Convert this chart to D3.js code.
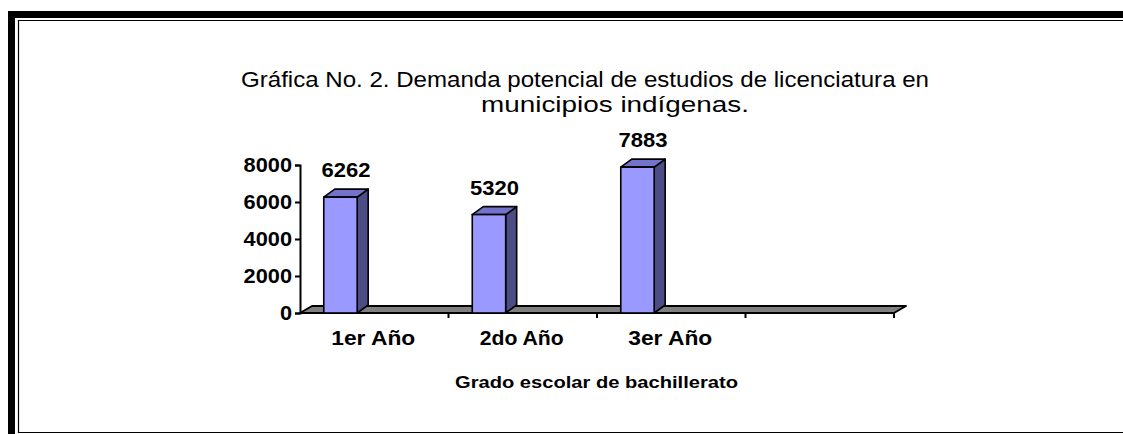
<!DOCTYPE html>
<html>
<head>
<meta charset="utf-8">
<script src="https://cdn.jsdelivr.net/npm/d3@7"></script>
<style>
  html, body { margin: 0; padding: 0; background: #fff; }
  svg { display: block; }
  text { font-family: "Liberation Sans", Arial, sans-serif; fill: #000; }
</style>
</head>
<body>
<script>
// ---- data ----
const categories = ["1er Año", "2do Año", "3er Año", ""];
const values = [6262, 5320, 7883, null];
const yTicks = [0, 2000, 4000, 6000, 8000];
const titleLines = ["Gráfica No. 2. Demanda potencial de estudios de licenciatura en", "municipios indígenas."];
const xAxisTitle = "Grado escolar de bachillerato";

// ---- layout ----
const W = 1123, H = 434;
const svg = d3.select("body").append("svg").attr("width", W).attr("height", H);
svg.append("rect").attr("width", W).attr("height", H).attr("fill", "#fff");

// frame
svg.append("rect").attr("x", 8).attr("y", 11).attr("width", W - 8).attr("height", 7).attr("fill", "#000");
svg.append("rect").attr("x", 8).attr("y", 11).attr("width", 7).attr("height", H - 11).attr("fill", "#000");
svg.append("path").attr("d", `M${W},20.5 H18.5 V432.5 H${W}`).attr("fill", "none").attr("stroke", "#000").attr("stroke-width", 1.2);

// title
svg.append("text").attr("x", 241).attr("y", 87).attr("font-size", 22)
  .attr("textLength", 688).attr("lengthAdjust", "spacingAndGlyphs").text(titleLines[0]);
svg.append("text").attr("x", 481).attr("y", 112).attr("font-size", 22)
  .attr("textLength", 268).attr("lengthAdjust", "spacingAndGlyphs").text(titleLines[1]);

// scales
const x0 = 300, x1 = 894, yBase = 313, yTop = 165;
const x = d3.scaleBand().domain(categories.map((c, i) => i)).range([x0, x1]).padding(0);
const y = d3.scaleLinear().domain([0, 8000]).range([yBase, yTop]);
const bw = x.bandwidth();
const fdx = 12, fdy = -7;   // floor depth
const bdx = 11, bdy = -8;   // bar depth
const barOff = bw * 0.16, barW = bw * 0.225;

// floor
svg.append("polygon")
  .attr("points", [[x0, yBase], [x1, yBase], [x1 + fdx, yBase + fdy], [x0 + fdx, yBase + fdy]].map(p => p.join(",")).join(" "))
  .attr("fill", "#808080").attr("stroke", "#000").attr("stroke-width", 2).attr("stroke-linejoin", "round");

// y axis
const yAxis = d3.axisLeft(y).tickValues(yTicks).tickFormat(d3.format("d")).tickSize(5).tickPadding(3);
const ga = svg.append("g").attr("transform", `translate(${x0},0)`).call(yAxis);
ga.select(".domain").attr("stroke", "#000").attr("stroke-width", 2);
ga.selectAll(".tick line").attr("stroke", "#000").attr("stroke-width", 2);
ga.selectAll(".tick text").attr("font-size", 20).attr("font-weight", "bold")
  .attr("font-family", "Liberation Sans, Arial, sans-serif").attr("fill", "#000")
  .each(function(d) { const s = String(d); d3.select(this).attr("textLength", s.length * 12.1).attr("lengthAdjust", "spacingAndGlyphs"); });

// category ticks
svg.append("g").selectAll("line").data(categories.map((c, i) => i).slice(1).concat([categories.length]))
  .join("line")
  .attr("x1", i => i < categories.length ? x(i) : x1).attr("x2", i => i < categories.length ? x(i) : x1)
  .attr("y1", yBase).attr("y2", yBase + 5)
  .attr("stroke", "#000").attr("stroke-width", 2);

// bars
const bars = svg.append("g");
categories.forEach((c, i) => {
  const v = values[i];
  if (v == null) return;
  const bx = x(i) + barOff, bt = y(v);
  const g = bars.append("g");
  g.append("polygon")
    .attr("points", [[bx + barW, yBase], [bx + barW + bdx, yBase + bdy], [bx + barW + bdx, bt + bdy], [bx + barW, bt]].map(p => p.join(",")).join(" "))
    .attr("fill", "#4d4d85").attr("stroke", "#000").attr("stroke-width", 1.6).attr("stroke-linejoin", "round");
  g.append("polygon")
    .attr("points", [[bx, bt], [bx + bdx, bt + bdy], [bx + barW + bdx, bt + bdy], [bx + barW, bt]].map(p => p.join(",")).join(" "))
    .attr("fill", "#7373cc").attr("stroke", "#000").attr("stroke-width", 1.6).attr("stroke-linejoin", "round");
  g.append("rect").attr("x", bx).attr("y", bt).attr("width", barW).attr("height", yBase - bt)
    .attr("fill", "#9999ff").attr("stroke", "#000").attr("stroke-width", 1.6);
  g.append("text").attr("x", bx + (barW + bdx) / 2 - 24.5).attr("y", bt + bdy - 12)
    .attr("font-size", 20).attr("font-weight", "bold")
    .attr("textLength", 49).attr("lengthAdjust", "spacingAndGlyphs").text(v);
});

// category labels
svg.append("g").selectAll("text").data(categories.map((c, i) => i).filter(i => categories[i] !== ""))
  .join("text")
  .attr("x", i => x(i) + bw / 2 - 1 - 42).attr("y", 345)
  .attr("font-size", 20).attr("font-weight", "bold")
  .attr("textLength", 84).attr("lengthAdjust", "spacingAndGlyphs")
  .text(i => categories[i]);

// axis title
svg.append("text").attr("x", 455).attr("y", 388)
  .attr("font-size", 17).attr("font-weight", "bold")
  .attr("textLength", 283).attr("lengthAdjust", "spacingAndGlyphs").text(xAxisTitle);
</script>
</body>
</html>
